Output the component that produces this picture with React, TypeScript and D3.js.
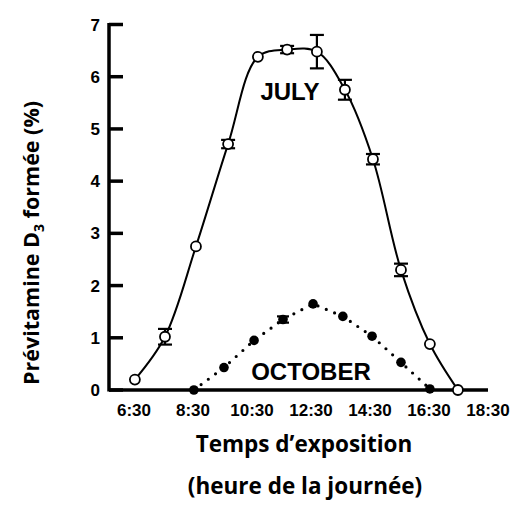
import React from "react";
import * as d3 from "d3";

// July (open circles, solid line)
const julyHours = [6.53, 7.55, 8.6, 9.69, 10.7, 11.69, 12.7, 13.65, 14.6, 15.55, 16.53, 17.48];
const julyValues = [0.2, 1.02, 2.75, 4.71, 6.38, 6.52, 6.48, 5.75, 4.42, 2.3, 0.88, 0];
const julyErrors = [0, 0.15, 0, 0.08, 0, 0.07, 0.32, 0.19, 0.1, 0.12, 0, 0];

// October (filled circles, dotted line)
const octHours = [8.53, 9.55, 10.57, 11.55, 12.57, 13.58, 14.57, 15.55, 16.53];
const octValues = [0, 0.43, 0.95, 1.35, 1.65, 1.41, 1.03, 0.53, 0.02];
const octErrors = [0, 0, 0, 0.06, 0, 0, 0, 0, 0];

const xTickHours = [6.5, 8.5, 10.5, 12.5, 14.5, 16.5, 18.5];
const xTickLabels = ["6:30", "8:30", "10:30", "12:30", "14:30", "16:30", "18:30"];
const yTicks = [0, 1, 2, 3, 4, 5, 6, 7];

const W = 514;
const H = 520;

export default function App() {
  const x = d3.scaleLinear().domain([6.5, 18.5]).range([134, 488]);
  const y = d3.scaleLinear().domain([0, 7]).range([390, 24.5]);
  const axisX0 = 109;

  const july = julyHours.map((h, i) => ({ h, v: julyValues[i], e: julyErrors[i] }));
  const oct = octHours.map((h, i) => ({ h, v: octValues[i], e: octErrors[i] }));

  const julyLine = d3
    .line<{ h: number; v: number }>()
    .x((d) => x(d.h))
    .y((d) => y(d.v))
    .curve(d3.curveCatmullRom.alpha(0.5))(july) as string;

  const octLine = d3
    .line<{ h: number; v: number }>()
    .x((d) => x(d.h))
    .y((d) => y(d.v))
    .curve(d3.curveLinear)(oct) as string;

  const tickFont = "'Liberation Sans', Arial, sans-serif";
  const titleFont = "'Open Sans', 'Noto Sans', sans-serif";

  return (
    <svg
      width={W}
      height={H}
      style={{ position: "absolute", left: 0, top: 0, background: "#fff" }}
    >
      <rect x={0} y={0} width={W} height={H} fill="#fff" />
      {/* July curve */}
      <path d={julyLine} fill="none" stroke="#000" strokeWidth={2} />
      {/* October dotted line */}
      <path
        d={octLine}
        fill="none"
        stroke="#000"
        strokeWidth={3.2}
        strokeLinecap="round"
        strokeDasharray="0 9"
      />

      {/* Axes */}
      <line x1={axisX0} y1={y(7) - 1.5} x2={axisX0} y2={y(0) + 1.5} stroke="#000" strokeWidth={3.5} />
      <line x1={axisX0} y1={y(0)} x2={x(18.5)} y2={y(0)} stroke="#000" strokeWidth={3.5} />
      {yTicks.map((t) => (
        <g key={t}>
          <line x1={axisX0} x2={axisX0 + 14} y1={y(t)} y2={y(t)} stroke="#000" strokeWidth={3.5} />
          <text
            x={100}
            y={y(t) + 6}
            textAnchor="end"
            fontFamily={tickFont}
            fontWeight="bold"
            fontSize={17}
          >
            {t}
          </text>
        </g>
      ))}
      {xTickHours.map((h, i) => (
        <text
          key={h}
          x={x(h)}
          y={416}
          textAnchor="middle"
          fontFamily={tickFont}
          fontWeight="bold"
          fontSize={17}
        >
          {xTickLabels[i]}
        </text>
      ))}

      {/* July error bars + markers */}
      {july.map((d, i) =>
        d.e > 0 ? (
          <g key={"je" + i} stroke="#000" strokeWidth={2.2}>
            <line x1={x(d.h)} x2={x(d.h)} y1={y(d.v + d.e)} y2={y(d.v - d.e)} />
            <line x1={x(d.h) - 7} x2={x(d.h) + 7} y1={y(d.v + d.e)} y2={y(d.v + d.e)} />
            <line x1={x(d.h) - 7} x2={x(d.h) + 7} y1={y(d.v - d.e)} y2={y(d.v - d.e)} />
          </g>
        ) : null
      )}
      {july.map((d, i) => (
        <circle key={"jc" + i} cx={x(d.h)} cy={y(d.v)} r={5} fill="#fff" stroke="#000" strokeWidth={1.8} />
      ))}

      {/* October markers */}
      {oct.map((d, i) =>
        d.e > 0 ? (
          <g key={"oe" + i} stroke="#000" strokeWidth={2.2}>
            <line x1={x(d.h) - 6} x2={x(d.h) + 6} y1={y(d.v + d.e)} y2={y(d.v + d.e)} />
            <line x1={x(d.h) - 6} x2={x(d.h) + 6} y1={y(d.v - d.e)} y2={y(d.v - d.e)} />
          </g>
        ) : null
      )}
      {oct.map((d, i) => (
        <circle key={"oc" + i} cx={x(d.h)} cy={y(d.v)} r={4.8} fill="#000" />
      ))}

      {/* Series labels */}
      <text x={290} y={100} textAnchor="middle" fontFamily={tickFont} fontWeight="bold" fontSize={24}>
        JULY
      </text>
      <text x={311} y={380} textAnchor="middle" fontFamily={tickFont} fontWeight="bold" fontSize={24}>
        OCTOBER
      </text>

      {/* Axis titles */}
      <text
        transform={`translate(39,243) rotate(-90)`}
        textAnchor="middle"
        fontFamily={titleFont}
        fontWeight="bold"
        fontSize={21.5}
      >
        Prévitamine D<tspan fontSize={14} dy={5}>3</tspan>
        <tspan dy={-5}> formée (%)</tspan>
      </text>
      <text x={304} y={452} textAnchor="middle" fontFamily={titleFont} fontWeight="bold" fontSize={22.5}>
        Temps d’exposition
      </text>
      <text x={305} y={494} textAnchor="middle" fontFamily={titleFont} fontWeight="bold" fontSize={22.5}>
        (heure de la journée)
      </text>
    </svg>
  );
}
